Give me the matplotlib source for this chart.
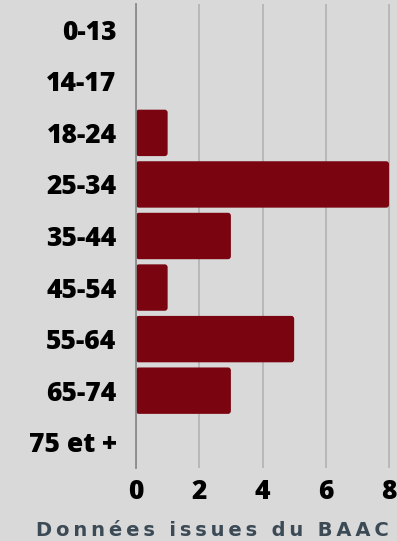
import matplotlib.pyplot as plt
from matplotlib.patches import FancyBboxPatch

plt.rcParams['font.family'] = ['Open Sans', 'DejaVu Sans']

# tranches d'âge et nombre de victimes
categories = ['0-13', '14-17', '18-24', '25-34', '35-44', '45-54', '55-64', '65-74', '75 et +']
valeurs = [0, 0, 1, 8, 3, 1, 5, 3, 0]
xticks = [0, 2, 4, 6, 8]
source = 'Données issues du BAAC'

fond = '#d9d9d9'
rouge = '#7a0510'

fig = plt.figure(figsize=(3.97, 5.41), dpi=100, facecolor=fond)
ax = fig.add_axes([136 / 397, 1 - 468 / 541, 254 / 397, 464 / 541], facecolor=fond)

y = list(range(len(categories)))
bars = ax.barh(y, valeurs, height=0.9, color=rouge)
# coins arrondis
for b in bars:
    w = b.get_width()
    if w <= 0:
        b.set_visible(False)
        continue
    p = FancyBboxPatch((b.get_x(), b.get_y()), w, b.get_height(),
                       boxstyle='round,pad=0,rounding_size=0.09',
                       mutation_aspect=0.64, facecolor=rouge, edgecolor='none', zorder=3)
    ax.add_patch(p)
    b.set_visible(False)

ax.set_xlim(0, 8.03)
ax.set_ylim(len(categories) - 0.5, -0.5)
ax.set_xticks(xticks)
ax.set_yticks(y)
ax.set_yticklabels(categories)
ax.tick_params(axis='both', length=0, labelsize=19, colors='black')
ax.tick_params(axis='y', pad=14)
ax.tick_params(axis='x', pad=8)
for lab in ax.get_xticklabels() + ax.get_yticklabels():
    lab.set_fontweight('heavy')

ax.grid(axis='x', color='#b5b5b5', linewidth=1.3, zorder=0)
ax.set_axisbelow(True)
for s in ['top', 'right', 'bottom']:
    ax.spines[s].set_visible(False)
ax.spines['left'].set_color('#8a8a8a')
ax.spines['left'].set_linewidth(1.3)
ax.spines['left'].set_zorder(4)

fig.text(212 / 397, 1 - 530 / 541, '\u2009'.join(source), ha='center', va='center',
         fontsize=14, fontweight='bold', color='#3b4a55', family='DejaVu Sans')

fig.savefig('out.png', dpi=100, facecolor=fond)
